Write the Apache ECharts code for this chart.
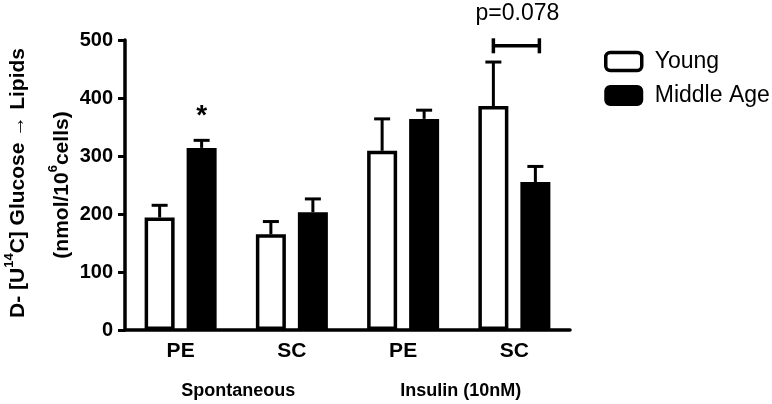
<!DOCTYPE html>
<html><head><meta charset="utf-8">
<script src="https://cdn.jsdelivr.net/npm/echarts@6/dist/echarts.min.js"></script>
<style>html,body{margin:0;padding:0;background:#fff}#c{width:772px;height:404px}</style>
</head><body><div id="c"></div>
<script>
// ---- data ----
const categories = ['PE', 'SC', 'PE', 'SC'];
const groupLabels = ['Spontaneous', 'Insulin (10nM)'];
const seriesNames = ['Young', 'Middle Age'];
const youngMean = [194, 165, 309, 386];
const youngErrTop = [215, 187, 364, 462];
const middleMean = [314, 203, 364, 255];
const middleErrTop = [327, 226, 379, 282];
const yTicks = [0, 100, 200, 300, 400, 500];
const starText = '*';
const pText = 'p=0.078';

// ---- style constants ----
const FONT = "'Liberation Sans', Arial, sans-serif";
const BAR_W = 30, BAR_GAP = 12;
const OFF = (BAR_W + BAR_GAP) / 2;
const CAP = 8;

const chart = echarts.init(document.getElementById('c'), null, {renderer: 'canvas'});

function errSeries(means, tops, sign) {
  return {
    type: 'custom',
    z: 5,
    silent: true,
    encode: {x: 0, y: [1, 2]},
    data: means.map((m, i) => [i, m, tops[i]]),
    renderItem: function (params, api) {
      const i = api.value(0);
      const a = api.coord([i, api.value(1)]);
      const b = api.coord([i, api.value(2)]);
      const x = a[0] + sign * OFF;
      const st = {stroke: '#000', lineWidth: 3};
      return {
        type: 'group',
        children: [
          {type: 'line', shape: {x1: x, y1: a[1], x2: x, y2: b[1]}, style: st},
          {type: 'line', shape: {x1: x - CAP, y1: b[1], x2: x + CAP, y2: b[1]}, style: st}
        ]
      };
    }
  };
}

const option = {
  animation: false,
  backgroundColor: '#fff',
  grid: {left: 125, right: 202, top: 40, bottom: 74, containLabel: false},
  legend: {
    orient: 'vertical', left: 599, top: 45,
    itemWidth: 36, itemHeight: 18, itemGap: 11,
    selectedMode: false,
    textStyle: {fontFamily: FONT, fontSize: 23, color: '#000', padding: [0, 0, 0, 8]},
    data: [
      {name: seriesNames[0], icon: 'roundRect', itemStyle: {color: '#fff', borderColor: '#000', borderWidth: 3.5}},
      {name: seriesNames[1], icon: 'roundRect', itemStyle: {color: '#000', borderColor: '#000', borderWidth: 3}}
    ]
  },
  xAxis: {
    type: 'category', data: categories,
    axisLine: {lineStyle: {color: '#000', width: 3.5}},
    axisTick: {alignWithLabel: true, length: 6, lineStyle: {color: '#000', width: 3}},
    axisLabel: {color: '#000', fontFamily: FONT, fontWeight: 'bold', fontSize: 21, margin: 11},
    splitLine: {show: false}
  },
  yAxis: {
    type: 'value', min: yTicks[0], max: yTicks[yTicks.length - 1], interval: yTicks[1] - yTicks[0],
    axisLine: {show: true, lineStyle: {color: '#000', width: 3.5}},
    axisTick: {show: true, length: 7, lineStyle: {color: '#000', width: 3}},
    axisLabel: {color: '#000', fontFamily: FONT, fontWeight: 'bold', fontSize: 20, margin: 12},
    splitLine: {show: false}
  },
  series: [
    {name: seriesNames[0], type: 'bar', data: youngMean, barWidth: BAR_W, barGap: (BAR_GAP / BAR_W * 100) + '%',
     itemStyle: {color: '#fff', borderColor: '#000', borderWidth: 3.5}, emphasis: {disabled: true}},
    {name: seriesNames[1], type: 'bar', data: middleMean, barWidth: BAR_W,
     itemStyle: {color: '#000', borderColor: '#000', borderWidth: 3}, emphasis: {disabled: true}},
    errSeries(youngMean, youngErrTop, -1),
    errSeries(middleMean, middleErrTop, 1)
  ]
};
chart.setOption(option);

// ---- annotations positioned through the chart's scales ----
const px = (i, v) => chart.convertToPixel({gridIndex: 0}, [i, v]);
const star = px(0, 369);
const br = px(3, 490);
const g1 = [(px(0, 0)[0] + px(1, 0)[0]) / 2, px(0, 0)[1] + 61];
const g2 = [(px(2, 0)[0] + px(3, 0)[0]) / 2, px(0, 0)[1] + 61];
const mid = px(0, 250);
const bst = {stroke: '#000', lineWidth: 3.5};
const subRich = {
  b: {fontFamily: FONT, fontWeight: 'bold', fontSize: 21, color: '#000', lineHeight: 26, verticalAlign: 'bottom'},
  s: {fontFamily: FONT, fontWeight: 'bold', fontSize: 13, color: '#000', lineHeight: 26, verticalAlign: 'top'}
};
chart.setOption({
  graphic: [
    {type: 'text', x: star[0] + OFF, y: star[1], style: {text: starText, font: 'bold 28px ' + FONT, fill: '#000', align: 'center', verticalAlign: 'middle'}},
    {type: 'line', shape: {x1: br[0] - OFF, y1: br[1], x2: br[0] + OFF + 4, y2: br[1]}, style: bst},
    {type: 'line', shape: {x1: br[0] - OFF, y1: br[1] - 7.5, x2: br[0] - OFF, y2: br[1] + 7.5}, style: bst},
    {type: 'line', shape: {x1: br[0] + OFF + 4, y1: br[1] - 7.5, x2: br[0] + OFF + 4, y2: br[1] + 7.5}, style: bst},
    {type: 'text', x: br[0] + 3, y: br[1] - 32, style: {text: pText, font: '23px ' + FONT, fill: '#000', align: 'center', verticalAlign: 'middle'}},
    {type: 'text', x: g1[0] + 2, y: g1[1], style: {text: groupLabels[0], font: 'bold 18px ' + FONT, fill: '#000', align: 'center', verticalAlign: 'middle'}},
    {type: 'text', x: g2[0] + 2, y: g2[1], style: {text: groupLabels[1], font: 'bold 18px ' + FONT, fill: '#000', align: 'center', verticalAlign: 'middle'}},
    {type: 'text', x: 16, y: mid[1] - 2, rotation: Math.PI / 2,
     style: {text: '{b|D- [U}{s|14}{b|C] Glucose → Lipids}', rich: subRich, align: 'center', verticalAlign: 'middle'}},
    {type: 'text', x: 60, y: mid[1], rotation: Math.PI / 2,
     style: {text: '{b|(nmol/10}{s|6}{b|cells)}', rich: subRich, align: 'center', verticalAlign: 'middle'}}
  ]
});
</script>
</body></html>
